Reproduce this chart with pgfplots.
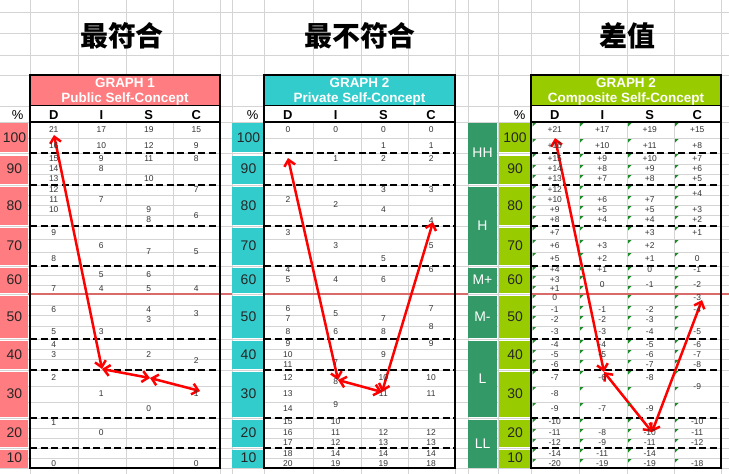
\documentclass[border=0pt]{standalone}
\usepackage{fontspec}
\setmainfont{Liberation Sans}
\newfontfamily\cjk{Noto Sans CJK SC}
\usepackage{pgfplots}
\usepackage{pgfplotstable}
\pgfplotsset{compat=1.18}
\usetikzlibrary{arrows.meta}

\definecolor{rose}{HTML}{FF7C80}
\definecolor{aqua}{HTML}{33CCCC}
\definecolor{lime}{HTML}{99CC00}
\definecolor{sea}{HTML}{339966}
\definecolor{midline}{HTML}{D86A6A}
\definecolor{cellgrid}{HTML}{D4D4D4}
\definecolor{celltext}{HTML}{333333}
\definecolor{flag}{HTML}{1E8C2A}

% cell contents: column (0=D,1=I,2=S,3=C), row position, text
\pgfplotstableread{
c y t
0 130 21
0 146 16
0 159 15
0 169 14
0 179 13
0 190 12
0 200 11
0 210 10
0 233 9
0 259 8
0 289 7
0 310 6
0 332 5
0 345 4
0 355 3
0 378 2
0 423 1
0 464 0
1 130 17
1 146 10
1 159 9
1 169 8
1 200 7
1 246 6
1 275 5
1 289 4
1 332 3
1 394 1
1 433 0
2 130 19
2 146 12
2 159 11
2 179 10
2 210 9
2 220 8
2 252 7
2 275 6
2 289 5
2 310 4
2 320 3
2 355 2
2 409 0
3 130 15
3 146 9
3 159 8
3 190 7
3 216 6
3 252 5
3 289 4
3 314 3
3 361 2
3 394 1
3 464 0
}\graphone

\pgfplotstableread{
c y t
0 130 0
0 200 2
0 233 3
0 270 4
0 280 5
0 309 6
0 319 7
0 332 8
0 344 9
0 355 10
0 365 11
0 378 12
0 394 13
0 409 14
0 422 15
0 433 16
0 443 17
0 454 18
0 464 20
1 130 0
1 159 1
1 205 2
1 246 3
1 280 4
1 314 5
1 332 6
1 363 7
1 382 8
1 405 9
1 422 10
1 433 11
1 443 12
1 454 14
1 464 19
2 130 0
2 146 1
2 159 2
2 190 3
2 210 4
2 259 5
2 280 6
2 319 7
2 332 8
2 355 9
2 378 10
2 394 11
2 433 12
2 443 13
2 454 14
2 464 19
3 130 0
3 146 1
3 159 2
3 190 3
3 221 4
3 246 5
3 270 6
3 309 7
3 327 8
3 344 9
3 378 10
3 394 11
3 433 12
3 443 13
3 454 14
3 464 18
}\graphtwo

\pgfplotstableread{
c y t
0 130 +21
0 146 +16
0 159 +15
0 169 +14
0 179 +13
0 190 +12
0 200 +10
0 210 +9
0 220 +8
0 233 +7
0 246 +6
0 259 +5
0 270 +4
0 280 +3
0 289 +1
0 298 0
0 310 -1
0 320 -2
0 332 -3
0 345 -4
0 355 -5
0 365 -6
0 378 -7
0 394 -8
0 409 -9
0 422 -10
0 433 -11
0 443 -12
0 454 -14
0 464 -20
1 130 +17
1 146 +10
1 159 +9
1 169 +8
1 179 +7
1 200 +6
1 210 +5
1 220 +4
1 246 +3
1 259 +2
1 270 +1
1 285 0
1 310 -1
1 320 -2
1 332 -3
1 345 -4
1 355 -5
1 378 -6
1 409 -7
1 433 -8
1 443 -9
1 454 -11
1 464 -19
2 130 +19
2 146 +11
2 159 +10
2 169 +9
2 179 +8
2 200 +7
2 210 +5
2 220 +4
2 233 +3
2 246 +2
2 259 +1
2 270 0
2 285 -1
2 310 -2
2 320 -3
2 332 -4
2 345 -5
2 355 -6
2 365 -7
2 378 -8
2 409 -9
2 433 -10
2 443 -11
2 454 -14
2 464 -19
3 130 +15
3 146 +8
3 159 +7
3 169 +6
3 179 +5
3 194 +4
3 210 +3
3 220 +2
3 233 +1
3 259 0
3 270 -1
3 285 -2
3 298 -3
3 310 -4
3 332 -5
3 345 -6
3 355 -7
3 365 -8
3 387 -9
3 422 -10
3 433 -11
3 443 -12
3 464 -18
}\graphthree

\pgfplotstableread{
y t
137.5 100
169 90
205.5 80
246 70
280 60
316.5 50
354.5 40
394 30
433 20
458 10
}\pctlabels

\pgfplotstableread{
y t
153 HH
226 H
280 M+
317 M-
379 L
444 LL
}\levels

% spreadsheet rows of the data area (top edge of each row)
\pgfplotstableread{
row y
1 122
2 138
3 153
4 164
5 174
6 185
7 195
8 205
9 215
10 226
11 239
12 252
13 266
14 275
15 285
16 294
17 305
18 315
19 326
20 339
21 349
22 359
23 370
24 386
25 402
26 418
27 428
28 438
29 448
30 458
}\rowtops

\pgfdeclareplotmark{corner}{%
  \pgfpathmoveto{\pgfpointorigin}%
  \pgfpathlineto{\pgfpoint{3.5bp}{0bp}}%
  \pgfpathlineto{\pgfpoint{0bp}{-3.5bp}}%
  \pgfpathclose\pgfusepathqfill}

\pgfplotsset{
  celltexts/.style={only marks, mark=*, mark size=0pt,
    mark options={draw=none,fill=none},
    point meta=explicit symbolic, nodes near coords,
    nodes near coords style={anchor=center, inner sep=0pt,
      font=\fontsize{8.5}{9}\selectfont, text=celltext}},
  bigtexts/.style={celltexts,
    nodes near coords style={font=\fontsize{14}{15}\selectfont, text=black!85}},
  sep/.style={black, line width=1.8bp, dash pattern=on 7bp off 3.5bp},
  profile/.style={red, line width=2.5bp,
    >={Straight Barb[length=6bp,width=11bp]}, <->},
}

\newcommand{\cellbox}[5]{\addplot[draw=none,fill=#1] coordinates {(#2,#4) (#3,#4) (#3,#5) (#2,#5)};}
\newcommand{\pctcolumn}[3]{%
  \cellbox{#1}{#2}{#3}{123}{152}
  \cellbox{#1}{#2}{#3}{155.5}{184}
  \cellbox{#1}{#2}{#3}{187}{225}
  \cellbox{#1}{#2}{#3}{228}{265}
  \cellbox{#1}{#2}{#3}{267.5}{293}
  \cellbox{#1}{#2}{#3}{296}{338}
  \cellbox{#1}{#2}{#3}{341}{369}
  \cellbox{#1}{#2}{#3}{372}{417}
  \cellbox{#1}{#2}{#3}{420}{447}
  \cellbox{#1}{#2}{#3}{450}{468}}
\newcommand{\seps}[2]{%
  \pgfplotsinvokeforeach{153,185,226,266,339,370,418,448}{%
    \addplot[sep] coordinates {(#1,##1) (#2,##1)};}}
\newcommand{\tableframe}[2]{%
  \addplot[black, line width=1bp] coordinates {(#1,106) (#2,106)};
  \addplot[black, line width=2bp] coordinates {(#1,122) (#2,122)};
  \addplot[black, line width=2bp, line cap=rect] coordinates {(#1,75) (#2,75) (#2,468) (#1,468) (#1,75)};}
\newcommand{\discrow}[4]{%
  \node[font=\bfseries\fontsize{13}{14}\selectfont] at (axis cs:#1,115) {D};
  \node[font=\bfseries\fontsize{13}{14}\selectfont] at (axis cs:#2,115) {I};
  \node[font=\bfseries\fontsize{13}{14}\selectfont] at (axis cs:#3,115) {S};
  \node[font=\bfseries\fontsize{13}{14}\selectfont] at (axis cs:#4,115) {C};}

\begin{document}
\begin{tikzpicture}
\begin{axis}[name=ax, scale only axis, width=729bp, height=474bp,
    xmin=0, xmax=729, ymin=0, ymax=474, y dir=reverse, clip=false,
    axis line style={draw=none}, major tick length=0pt,
    tick style={draw=none}, xticklabels={}, yticklabels={},
    xtick={30,78,126,173,220,232,264,313,361,408,455,468,498,531,579,627,674,721},
    ytick={12,33,55,75,106,122,138,153,164,174,185,195,205,215,226,239,252,266,275,285,
      294,305,315,326,339,349,359,370,386,402,418,428,438,448,458,468},
    grid=major, major grid style={cellgrid, line width=0.7bp}]

% the 50% row border runs across the sheet, under the coloured cells
\addplot[midline, line width=1.6bp] coordinates {(28,294) (232,294)};
\addplot[midline, line width=1.6bp] coordinates {(263,294) (468,294)};
\addplot[midline, line width=1.6bp] coordinates {(530,294) (729,294)};

% header cells
\cellbox{rose}{30}{220}{75}{106}
\cellbox{aqua}{264}{455}{75}{106}
\cellbox{lime}{531}{721}{75}{106}
\cellbox{white}{30}{220}{106}{122}
\cellbox{white}{264}{455}{106}{122}
\cellbox{white}{531}{721}{106}{122}

% percentile columns
\pctcolumn{rose}{0}{28}
\pctcolumn{aqua}{232}{263}
\pctcolumn{lime}{499}{530}
\cellbox{sea}{468}{497}{123}{184}
\cellbox{sea}{468}{497}{187}{265}
\cellbox{sea}{468}{497}{267.5}{293}
\cellbox{sea}{468}{497}{296}{338}
\cellbox{sea}{468}{497}{341}{417}
\cellbox{sea}{468}{497}{420}{468}

% band separators
\seps{30}{220}
\seps{264}{455}
\seps{531}{721}

% text-cell flags in the composite graph
\addplot[only marks, mark=corner, flag] table[x expr=532.5, y expr=\thisrow{y}+1] {\rowtops};
\addplot[only marks, mark=corner, flag] table[x expr=580, y expr=\thisrow{y}+1] {\rowtops};
\addplot[only marks, mark=corner, flag] table[x expr=628, y expr=\thisrow{y}+1] {\rowtops};
\addplot[only marks, mark=corner, flag] table[x expr=675, y expr=\thisrow{y}+1] {\rowtops};

\tableframe{30}{220}
\tableframe{264}{455}
\tableframe{531}{721}

% cell values
\addplot[celltexts] table[x expr=30+(\thisrow{c}+0.5)*47.5, y=y, meta=t] {\graphone};
\addplot[celltexts] table[x expr=264+(\thisrow{c}+0.5)*47.75, y=y, meta=t] {\graphtwo};
\addplot[celltexts] table[x expr=531+(\thisrow{c}+0.5)*47.5, y=y, meta=t] {\graphthree};

% percentile labels
\addplot[bigtexts] table[x expr=14.5, y=y, meta=t] {\pctlabels};
\addplot[bigtexts] table[x expr=248.5, y=y, meta=t] {\pctlabels};
\addplot[bigtexts] table[x expr=515, y=y, meta=t] {\pctlabels};
\addplot[bigtexts, nodes near coords style={text=white}] table[x expr=482.5, y=y, meta=t] {\levels};

% titles and headers
\node[font=\fontsize{28}{30}\selectfont\cjk\bfseries] at (axis cs:122,36) {最符合};
\node[font=\fontsize{28}{30}\selectfont\cjk\bfseries] at (axis cs:360,36) {最不符合};
\node[font=\fontsize{28}{30}\selectfont\cjk\bfseries] at (axis cs:627,36) {差值};

\node[font=\bfseries\fontsize{13.5}{14}\selectfont, text=white] at (axis cs:125,83) {GRAPH 1};
\node[font=\bfseries\fontsize{13.5}{14}\selectfont, text=white] at (axis cs:125,99) {Public Self-Concept};
\node[font=\bfseries\fontsize{13.5}{14}\selectfont, text=white] at (axis cs:359.5,83) {GRAPH 2};
\node[font=\bfseries\fontsize{13.5}{14}\selectfont, text=white] at (axis cs:359.5,99) {Private Self-Concept};
\node[font=\bfseries\fontsize{13.5}{14}\selectfont, text=white] at (axis cs:626,83) {GRAPH 2};
\node[font=\bfseries\fontsize{13.5}{14}\selectfont, text=white] at (axis cs:626,99) {Composite Self-Concept};

\discrow{53.8}{101.3}{148.8}{196.3}
\discrow{287.9}{335.6}{383.4}{431.1}
\discrow{554.8}{602.3}{649.8}{697.3}
\node[font=\fontsize{13}{14}\selectfont, anchor=east] at (axis cs:27,115) {\%};
\node[font=\fontsize{13}{14}\selectfont, anchor=east] at (axis cs:262,115) {\%};
\node[font=\fontsize{13}{14}\selectfont, anchor=east] at (axis cs:529,115) {\%};

% profile lines
\addplot[profile] coordinates {(54,135) (102,369)};
\addplot[profile] coordinates {(102,369) (150,378)};
\addplot[profile] coordinates {(150,378) (200,391)};
\addplot[profile] coordinates {(288,158) (338,380)};
\addplot[profile] coordinates {(338,380) (382,392)};
\addplot[profile] coordinates {(382,392) (433,222)};
\addplot[profile] coordinates {(555,138) (604,372)};
\addplot[profile] coordinates {(604,372) (652,432)};
\addplot[profile] coordinates {(652,432) (702,300)};
\end{axis}
\pgfresetboundingbox
\path (ax.south west) rectangle (ax.north east);
\end{tikzpicture}
\end{document}
